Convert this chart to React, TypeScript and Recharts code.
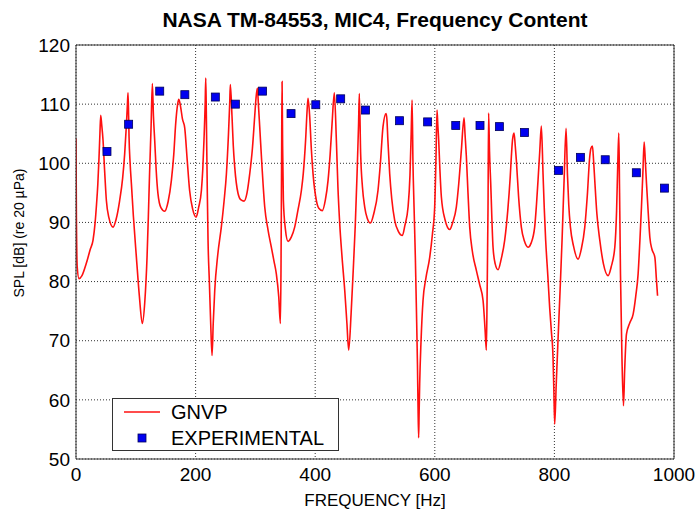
import {
  ComposedChart, Line, Scatter, XAxis, YAxis, CartesianGrid, ReferenceLine,
} from 'recharts';

const FONT = '"Liberation Sans", Arial, Helvetica, sans-serif';

// GNVP prediction (Hz, dB)
const gnvpFreq = [
  0, 0.6, 2, 5, 10, 17, 24, 28.5, 32, 34, 36.5, 38.5, 40, 41.3, 43, 45.2, 48, 50.8, 55, 61.9,
  67, 73, 78, 81.4, 84, 86, 87, 88, 88.7, 90.5, 92.6, 96, 101, 106, 110.9, 115, 118.8, 121, 123, 125.5,
  127.7, 129.5, 131.6, 134, 137, 142, 148.3, 154, 159.5, 163.5, 166.7, 170, 172, 175, 178, 181.8, 186, 190, 195, 201,
  205, 209.7, 212, 214, 216, 217, 218, 218.6, 219.6, 220.8, 223, 225.3, 227.5, 229.5, 232, 237, 243, 247.5, 251.5, 255,
  257, 258.1, 260.9, 263, 265.4, 271, 276, 281, 286, 290.5, 295, 298.8, 301, 303.3, 305, 307.2, 311, 315.6, 321, 326.7,
  331, 335, 339, 341.8, 342.8, 343.4, 344, 344.6, 345.5, 346.8, 350, 354.6, 360, 365.7, 371, 376.9, 380, 384, 386.5, 388,
  390.8, 393.5, 396.4, 402, 406, 412, 417, 421.5, 425, 428.2, 432, 435.4, 438, 441, 445, 449.4, 453, 456, 460, 463.3,
  467, 470, 472.5, 473.8, 476, 479, 482.8, 487, 492.3, 498, 505, 509, 513.4, 518.5, 520, 521.5, 524.6, 528, 533, 539,
  545.8, 550, 555.3, 558.5, 560.5, 562, 563.5, 565.3, 567.5, 569.2, 571, 572, 573, 573.8, 574.7, 577, 580.3, 585, 591.5, 596,
  599.8, 602, 603.7, 605, 606.5, 608.5, 611, 617, 625, 630, 636, 640, 644.4, 648.9, 650.5, 652.8, 655.5, 658.4, 663, 669.5,
  675, 680.7, 684, 686.2, 687.5, 689, 690, 691.5, 693.5, 697.4, 701, 705.8, 711, 716.9, 722, 726, 728, 730, 732.5, 734.5,
  736.4, 740, 744.7, 750, 755.9, 761, 767, 770, 772.6, 775.5, 778.2, 781, 783, 785.4, 789, 792.1, 795, 797.7, 799, 800.5,
  803, 806, 809.5, 812.8, 816.2, 819.5, 821.8, 824, 826.8, 832, 839.6, 845, 850.8, 855, 859.1, 861, 863.6, 865.5, 867.5, 871,
  875.9, 882, 889.8, 895, 901, 904, 906, 907.7, 909, 910.5, 913, 915.5, 917.5, 920.5, 926, 931.7, 936, 940, 943, 945.6,
  948, 950.1, 952, 954, 957, 959.6, 963, 968, 970.5, 972.5,
];
const gnvpSpl = [
  104.2, 92, 82.5, 80.5, 81, 83, 85.5, 87, 90, 92.6, 96.5, 101, 105, 108.1, 106.5, 103.9, 98.5, 93.7, 90.8, 89.2,
  90.5, 93.7, 97.5, 101.6, 106, 110, 111.9, 108, 104.5, 100, 96.6, 91, 84.1, 77.5, 72.9, 76.5, 84.1, 91, 98.2, 106,
  113.5, 108, 103.9, 99, 94.9, 92.5, 91.9, 93.5, 97.1, 101.5, 106.7, 110, 110.8, 109.5, 107.5, 106, 100.5, 95.4, 92.3, 90.9,
  92.5, 95.4, 99, 103.9, 110, 114.4, 108, 102.8, 95, 87, 80, 72.8, 67.5, 73, 78.5, 84.5, 89.2, 93.5, 98.2, 105,
  110, 113.3, 107.9, 103, 99.4, 94.9, 93.8, 93.6, 95, 98.2, 102.5, 107.9, 111, 112.7, 110, 106.2, 99.5, 92.6, 88.8, 85.8,
  83.5, 81.3, 77.5, 72.9, 82, 92.6, 104, 113.8, 103, 93.7, 89, 86.8, 87.5, 89.2, 92, 95.4, 98.2, 104, 109, 111,
  107.9, 102.5, 98.2, 93.7, 92.4, 92, 93.8, 97.1, 101.5, 106.7, 111.9, 103.9, 96, 89.8, 84, 78.5, 73, 68.4, 74.5, 81.3,
  89.5, 98.2, 106.5, 111.8, 101.6, 96, 92.6, 90.7, 89.9, 91.5, 95.4, 100, 106.2, 108.4, 107.3, 104, 98.2, 94, 90.3, 88.5,
  87.8, 89.5, 92.6, 98, 105, 110.7, 100, 92.6, 84, 75.6, 66, 58.7, 53.6, 58, 62.7, 70, 76.8, 80.5, 84.1, 88,
  92.6, 101, 109, 106.5, 103.9, 99, 94.3, 90.5, 88.8, 90, 92.6, 96.5, 102.2, 107.7, 105, 101.1, 95, 89.2, 85, 81.9,
  79.5, 76.8, 72, 68.4, 78, 92.6, 108.5, 102, 96.6, 85.8, 83, 82, 83.8, 87, 92, 97.5, 101.1, 104, 105.1, 103,
  100.5, 94.5, 89.2, 86.8, 85.8, 86.5, 89.2, 93, 97.1, 102, 106.3, 98.2, 92.5, 87, 81, 75.6, 71.5, 67.2, 62, 55.9,
  62.5, 70, 78.5, 87, 97.1, 105.9, 98.2, 93, 89.2, 86, 83.8, 85.5, 89.2, 94.5, 101.1, 102.5, 102.9, 100.5, 97.1, 91.5,
  87, 83, 81, 82.5, 85.8, 92, 100, 105.1, 95, 81.3, 67, 59, 65, 71.1, 73, 74.5, 77.5, 81.3, 87, 92.6,
  98.5, 103.6, 100.5, 96.6, 91.5, 87.5, 85.5, 84.1, 80.5, 77.6,
];

// experimental measurements
const expFreq = [51.8, 88, 140, 182, 233, 266.5, 312, 359.6, 401, 442.6, 484, 541, 588, 635, 675.6, 708, 750, 806.7, 843.5, 885, 937, 984];
const expSpl = [102.0, 106.6, 112.2, 111.6, 111.2, 110.0, 112.2, 108.4, 109.9, 110.9, 109.0, 107.2, 107.0, 106.4, 106.4, 106.2, 105.2, 98.8, 101.0, 100.6, 98.4, 95.8];

const xTicks = [0, 200, 400, 600, 800, 1000];
const yTicks = [50, 60, 70, 80, 90, 100, 110, 120];

const gnvpData = gnvpFreq.map((f, i) => ({ f, spl: gnvpSpl[i] }));
const expData = expFreq.map((f, i) => ({ f, spl: expSpl[i] }));

const SquareDot = (props: any) => {
  const { cx, cy } = props;
  if (cx == null || cy == null) return null;
  return <rect x={cx - 4} y={cy - 4} width={8} height={8} fill="#0000f0" stroke="#00005a" strokeWidth={0.8} />;
};

export default function App() {
  const tick = { fill: '#000', fontSize: 19, fontFamily: FONT };
  const axisLine = { stroke: '#333', strokeWidth: 1 };

  return (
    <div style={{ position: 'absolute', left: 0, top: 0, width: 699, height: 510, background: '#fff', fontFamily: FONT }}>
      <ComposedChart width={699} height={510} margin={{ top: 45, right: 25, bottom: 21, left: 0 }}>
        <CartesianGrid stroke="#333" strokeDasharray="1 2" strokeWidth={1} />
        <XAxis
          dataKey="f" type="number" domain={[0, 1000]} ticks={xTicks} allowDataOverflow
          height={30} tickSize={0} tickMargin={9} tick={tick} axisLine={axisLine} tickLine={false}
        />
        <YAxis
          type="number" domain={[50, 120]} ticks={yTicks} allowDataOverflow
          width={76} tickSize={0} tickMargin={6} tick={tick} axisLine={axisLine} tickLine={false}
        />
        <ReferenceLine y={120} stroke="#333" strokeWidth={1} />
        <ReferenceLine x={1000} stroke="#333" strokeWidth={1} />
        <Line
          data={gnvpData} dataKey="spl" type="monotone" stroke="#ff1010" strokeWidth={1.6}
          dot={false} activeDot={false} isAnimationActive={false}
        />
        <Scatter data={expData} dataKey="spl" shape={<SquareDot />} isAnimationActive={false} />
      </ComposedChart>

      <svg width={699} height={510} style={{ position: 'absolute', left: 0, top: 0, pointerEvents: 'none' }}>
        <text x={375} y={27} textAnchor="middle" fontSize={21} fontWeight="bold" fill="#000" fontFamily={FONT}>
          NASA TM-84553, MIC4, Frequency Content
        </text>
        <text x={375} y={506} textAnchor="middle" fontSize={17} fill="#000" fontFamily={FONT}>
          FREQUENCY [Hz]
        </text>
        <text
          x={19} y={233} textAnchor="middle" dominantBaseline="central" fontSize={14} fill="#000"
          fontFamily={FONT} transform="rotate(-90 19 233)"
        >
          SPL [dB] (re 20 µPa)
        </text>
      </svg>

      <div style={{
        position: 'absolute', left: 112, top: 398, width: 227, height: 53,
        border: '1px solid #333', background: '#fff', boxSizing: 'border-box',
      }}>
        <svg width={225} height={51}>
          <line x1={11} y1={13} x2={47} y2={13} stroke="#ff1010" strokeWidth={1.6} />
          <text x={58} y={13} dominantBaseline="central" fontSize={20} fill="#000" fontFamily={FONT}>GNVP</text>
          <rect x={25} y={35} width={8} height={8} fill="#0000f0" stroke="#00005a" strokeWidth={0.8} />
          <text x={58} y={38.5} dominantBaseline="central" fontSize={20} fill="#000" fontFamily={FONT}>EXPERIMENTAL</text>
        </svg>
      </div>
    </div>
  );
}
